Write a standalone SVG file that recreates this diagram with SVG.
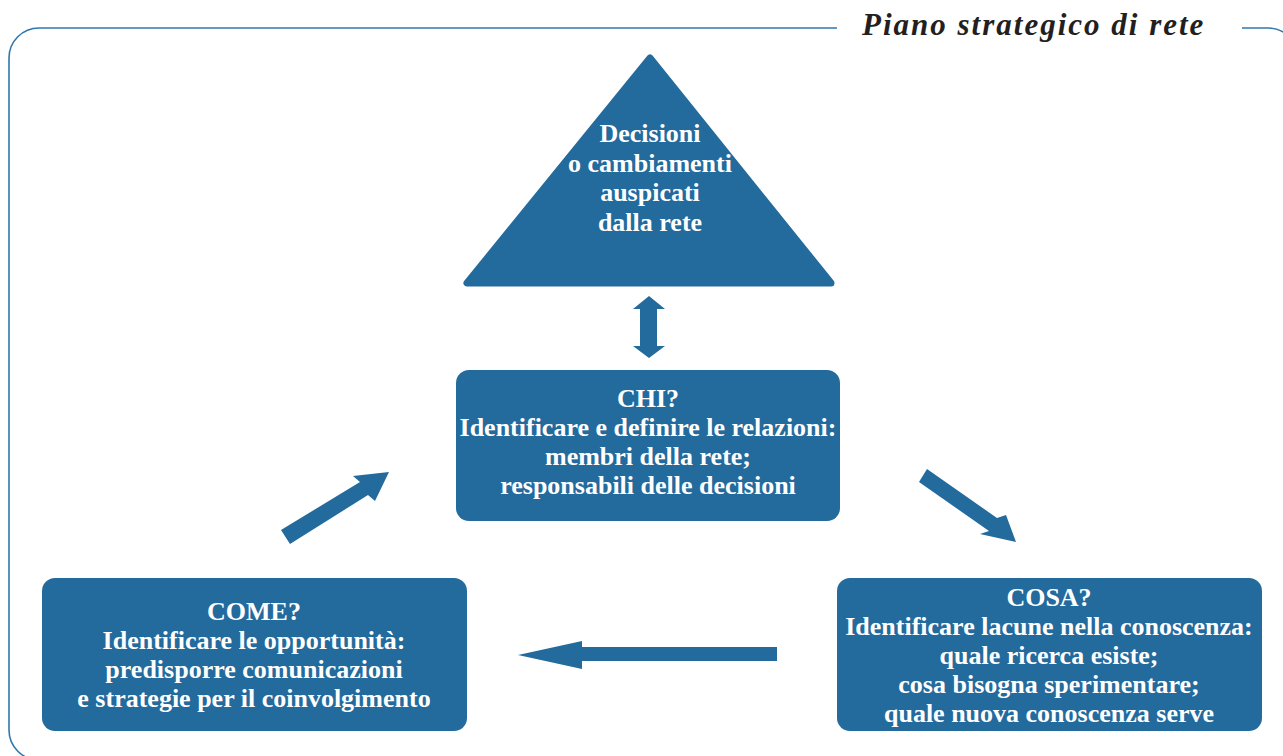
<svg xmlns="http://www.w3.org/2000/svg" width="1283" height="756" viewBox="0 0 1283 756">
  <style>
    .frame { fill: none; stroke: #2f77ad; stroke-width: 1.6; }
    .box { fill: #236a9d; }
    .arrow { fill: #236a9d; }
    .lbl { font-family: "Liberation Serif", "Times New Roman", serif; font-weight: bold; font-size: 26px; fill: #ffffff; text-anchor: middle; }
    .title { font-family: "Liberation Serif", "Times New Roman", serif; font-weight: bold; font-style: italic; font-size: 31px; letter-spacing: 2px; fill: #231f20; }
  </style>

  <rect width="1283" height="756" fill="#ffffff"/>

  <!-- outer frame, broken around the heading -->
  <g id="frame">
    <path class="frame" d="M837,28 H39 A30,30 0 0 0 9,58 V730 A30,30 0 0 0 39,760"/>
    <path class="frame" d="M1242,28 H1268 A30,30 0 0 1 1298,58"/>
    <text class="title" x="862" y="35">Piano strategico di rete</text>
  </g>

  <!-- top triangle -->
  <g id="node-decisioni">
    <polygon class="box" points="650,58 467,283 831,283" stroke="#236a9d" stroke-width="7" stroke-linejoin="round"/>
    <text class="lbl" x="650" y="142">Decisioni</text>
    <text class="lbl" x="650" y="172">o cambiamenti</text>
    <text class="lbl" x="650" y="201">auspicati</text>
    <text class="lbl" x="650" y="231">dalla rete</text>
  </g>

  <g id="node-chi">
    <rect class="box" x="456" y="370" width="384" height="151" rx="13"/>
    <text class="lbl" x="648" y="407">CHI?</text>
    <text class="lbl" x="648" y="436">Identificare e definire le relazioni:</text>
    <text class="lbl" x="648" y="465">membri della rete;</text>
    <text class="lbl" x="648" y="494">responsabili delle decisioni</text>
  </g>

  <g id="node-come">
    <rect class="box" x="42" y="578" width="425" height="153" rx="13"/>
    <text class="lbl" x="254" y="620">COME?</text>
    <text class="lbl" x="254" y="649">Identificare le opportunità:</text>
    <text class="lbl" x="254" y="678">predisporre comunicazioni</text>
    <text class="lbl" x="254" y="707">e strategie per il coinvolgimento</text>
  </g>

  <g id="node-cosa">
    <rect class="box" x="837" y="578" width="425" height="153" rx="13"/>
    <text class="lbl" x="1049" y="606">COSA?</text>
    <text class="lbl" x="1049" y="635">Identificare lacune nella conoscenza:</text>
    <text class="lbl" x="1049" y="664">quale ricerca esiste;</text>
    <text class="lbl" x="1049" y="693">cosa bisogna sperimentare;</text>
    <text class="lbl" x="1049" y="722">quale nuova conoscenza serve</text>
  </g>

  <!-- block arrows between the nodes -->
  <g id="connectors">
    <polygon class="arrow" points="649,296 665,309 657,309 657,346 665,346 649,358 633,346 640,346 640,309 633,309"/>
    <polygon class="arrow" points="927,469 997,518 1006,515 1016,542 980,534 989,531 919,482"/>
    <polygon class="arrow" points="777,647 582,647 582,641 518,655 582,669 582,661 777,661"/>
    <polygon class="arrow" points="281,530 360,482 353,476 389,472 375,501 368,495 290,544"/>
  </g>
</svg>
